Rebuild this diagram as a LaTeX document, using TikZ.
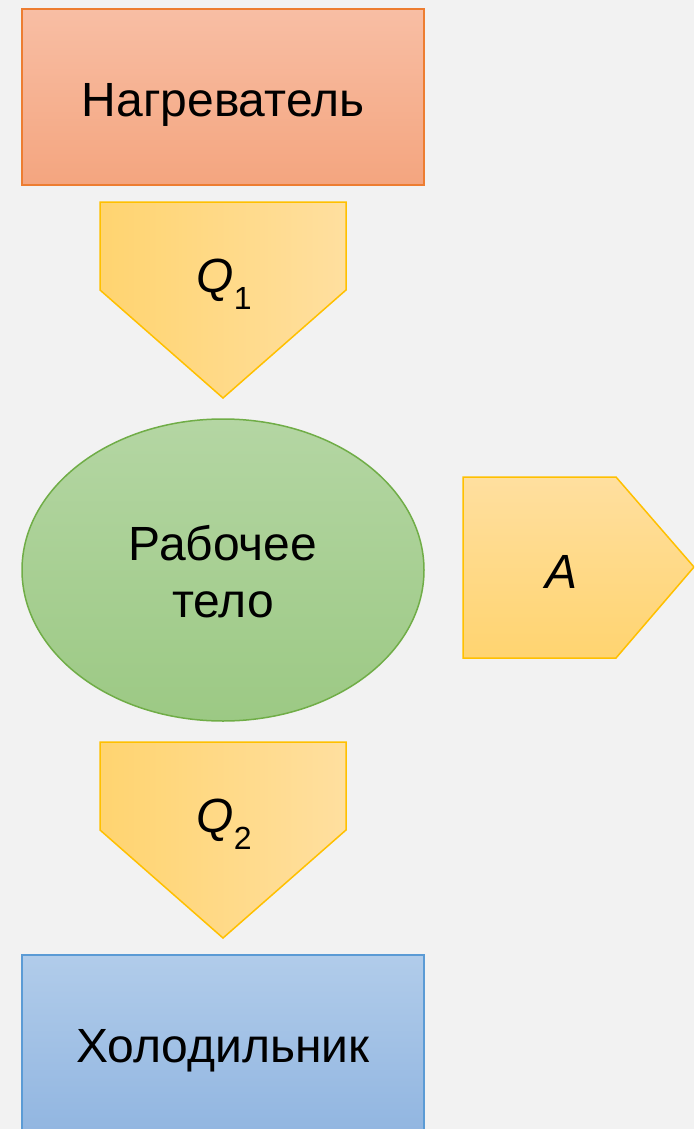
\documentclass[tikz,border=0pt]{standalone}
\usepackage{fontspec}
\setmainfont{Liberation Sans}
\definecolor{bgc}{HTML}{F2F2F2}
\definecolor{orTop}{HTML}{F8BEA4}
\definecolor{orBot}{HTML}{F4A57F}
\definecolor{orLine}{HTML}{ED7D31}
\definecolor{yA}{HTML}{FFD470}
\definecolor{yB}{HTML}{FFDF9F}
\definecolor{yLine}{HTML}{FFC000}
\definecolor{grTop}{HTML}{B4D6A3}
\definecolor{grBot}{HTML}{9CC984}
\definecolor{grLine}{HTML}{70AD47}
\definecolor{blTop}{HTML}{B1CCEA}
\definecolor{blBot}{HTML}{8FB4E0}
\definecolor{blLine}{HTML}{5B9BD5}
\begin{document}
\begin{tikzpicture}[x=1pt,y=-1pt,
  lbl/.style={font=\fontsize{48}{57}\selectfont, align=center, text=black, inner sep=0pt},
  edge/.style={line width=1.5pt, line join=miter}]
\fill[bgc] (0,0) rectangle (694,1129);
\useasboundingbox (0,0) rectangle (694,1129);
\clip (0,0) rectangle (694,1129);
% heater
\path[edge, draw=orLine, top color=orTop, bottom color=orBot] (22,9) rectangle (424,185);
% Q1 arrow
\path[edge, draw=yLine, left color=yA, right color=yB]
  (100,202) -- (346,202) -- (346,290) -- (223,398) -- (100,290) -- cycle;
% working body
\path[edge, draw=grLine, top color=grTop, bottom color=grBot]
  (223,570) ellipse [x radius=201, y radius=151];
% A arrow
\path[edge, draw=yLine, top color=yB, bottom color=yA]
  (463,477) -- (616,477) -- (694,567) -- (616,658) -- (463,658) -- cycle;
% Q2 arrow
\path[edge, draw=yLine, left color=yA, right color=yB]
  (100,742) -- (346,742) -- (346,830) -- (223,938) -- (100,830) -- cycle;
% cooler
\path[edge, draw=blLine, top color=blTop, bottom color=blBot] (22,955) rectangle (424,1145);
% labels
\node[lbl, anchor=base] (heater) at (223,117) {Нагреватель};
\node[lbl, anchor=base] (q1) at (224,292) {\textit{Q}\raisebox{-17pt}{\fontsize{32}{32}\selectfont 1}};
\node[lbl, anchor=base] (body) at (223,617) {Рабочее\\тело};
\node[lbl, anchor=base] (work) at (562,588) {\textit{A}};
\node[lbl, anchor=base] (q2) at (224,832) {\textit{Q}\raisebox{-17pt}{\fontsize{32}{32}\selectfont 2}};
\node[lbl, anchor=base] (cooler) at (223,1062) {Холодильник};
\end{tikzpicture}
\end{document}
